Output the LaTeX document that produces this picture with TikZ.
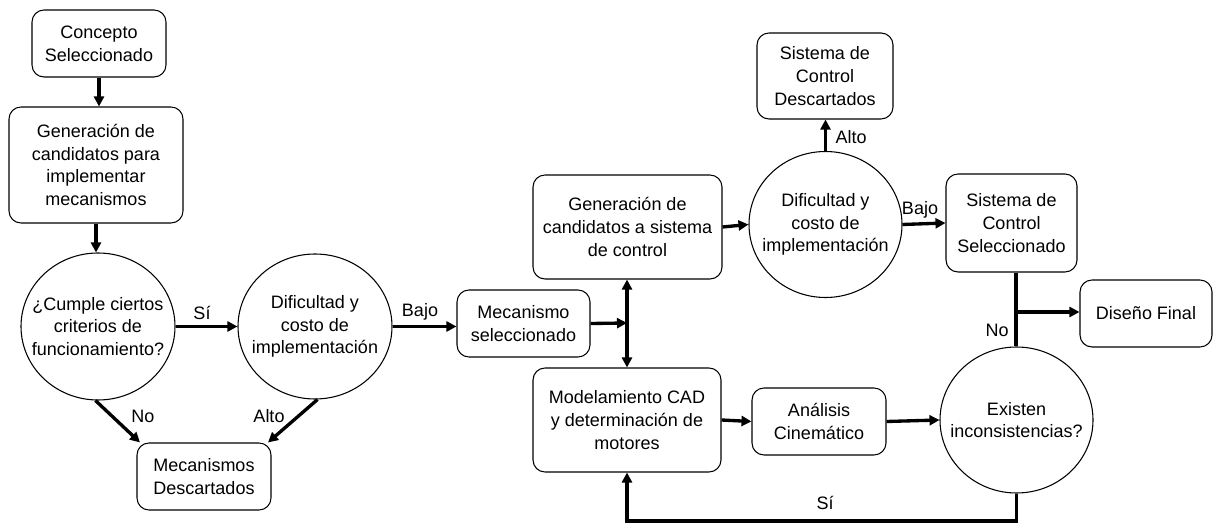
\documentclass[tikz,border=0pt]{standalone}
\usepackage{fontspec}
\setmainfont{Liberation Sans}
\usetikzlibrary{arrows.meta,shapes.geometric}
\begin{document}
\begin{tikzpicture}[x=0.75pt,y=-0.75pt,
  every node/.style={font=\fontsize{13.5}{17}\selectfont},
  box/.style={draw, line width=0.8pt, rounded corners=9pt, align=center, inner sep=0pt},
  circ/.style={draw, ellipse, line width=0.8pt, align=center, inner sep=-40pt},
  arr/.style={line width=2.5pt, -{Triangle[length=7.5pt,width=7.5pt]}},
  darr/.style={line width=2.5pt, {Triangle[length=7.5pt,width=7.5pt]}-{Triangle[length=7.5pt,width=7.5pt]}},
  ln/.style={line width=2.5pt},
  lbl/.style={inner sep=1pt}
]
\useasboundingbox (0,0) rectangle (1213,523);

% nodes
\node[box, minimum width=100.5pt, minimum height=50.25pt] (concepto) at (99,43.5) {Concepto\\Seleccionado};
\node[box, minimum width=130.5pt, minimum height=87pt] (gen1) at (96,165) {Generación de\\candidatos para\\implementar\\mecanismos};
\node[circ, minimum width=115.5pt, minimum height=110.25pt] (cumple) at (98,326.5) {¿Cumple ciertos\\criterios de\\funcionamiento?};
\node[circ, minimum width=115.5pt, minimum height=108.75pt] (dif1) at (315,326.5) {Dificultad y\\costo de\\implementación};
\node[box, minimum width=100.5pt, minimum height=50.25pt] (desc1) at (204,476.5) {Mecanismos\\Descartados};
\node[box, minimum width=99.75pt, minimum height=50.25pt] (mecsel) at (523.5,323.5) {Mecanismo\\seleccionado};
\node[box, minimum width=141.75pt, minimum height=78pt] (gen2) at (627.5,227) {Generación de\\candidatos a sistema\\de control};
\node[box, minimum width=141pt, minimum height=78pt] (model) at (627,420) {Modelamiento CAD\\y determinación de\\motores};
\node[box, minimum width=100.5pt, minimum height=50.25pt] (anal) at (819,421.5) {Análisis\\Cinemático};
\node[circ, minimum width=114.75pt, minimum height=109.5pt] (exist) at (1016.5,420) {Existen\\inconsistencias?};
\node[circ, minimum width=114.75pt, minimum height=109.5pt] (dif2) at (825.5,224.5) {Dificultad y\\costo de\\implementación};
\node[box, minimum width=102pt, minimum height=64.5pt] (desc2) at (825,76) {Sistema de\\Control\\Descartados};
\node[box, minimum width=98.25pt, minimum height=73.5pt] (selec) at (1011.5,223) {Sistema de\\Control\\Seleccionado};
\node[box, minimum width=99pt, minimum height=50.25pt] (final) at (1146,313.5) {Diseño Final};

\coordinate (j) at (627,323);
\coordinate (k) at (1016,312);
\coordinate (loopc) at (822,521);

% connectors
\draw[arr] (concepto.south) -- (concepto.south |- gen1.north);
\draw[arr] (gen1.south) -- (gen1.south |- cumple.north);
\draw[arr] (cumple.east) -- (dif1.west);
\draw[arr] (dif1.east) -- (dif1.east -| mecsel.west);
\draw[arr] (cumple.268) -- (desc1.152);
\draw[arr] (dif1.272) -- (desc1.28);
\draw[arr] (mecsel.east) -- (j);
\draw[darr] (gen2.south -| j) -- (model.north -| j);
\draw[arr] (gen2.east) -- (dif2.west);
\draw[arr] (dif2.north) -- (dif2.north |- desc2.south);
\draw[arr] (dif2.east) -- (selec.west);
\draw[arr] (model.east) -- (anal.west);
\draw[arr] (anal.east) -- (exist.west);
\draw[ln] (k |- selec.south) -- (k |- exist.north);
\draw[arr] (k) -- (k -| final.west);
\draw[arr] (exist.south) |- (loopc) -| (model.south);

% labels
\node[lbl] (l1) at (202,313) {Sí};
\node[lbl] (l2) at (420,312) {Bajo};
\node[lbl] (l3) at (143,416) {No};
\node[lbl] (l4) at (269,416) {Alto};
\node[lbl] (l5) at (851,137) {Alto};
\node[lbl] (l6) at (920,210) {Bajo};
\node[lbl] (l7) at (997,330) {No};
\node[lbl] (l8) at (825,503) {Sí};
\end{tikzpicture}
\end{document}
